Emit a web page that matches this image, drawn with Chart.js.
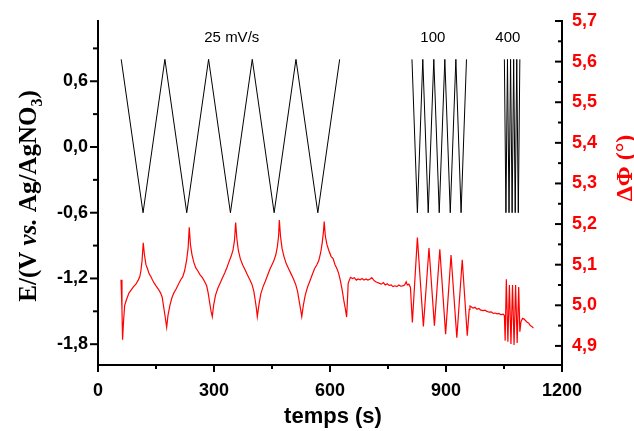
<!DOCTYPE html>
<html>
<head>
<meta charset="utf-8">
<script src="https://cdn.jsdelivr.net/npm/chart.js@4/dist/chart.umd.min.js"></script>
<style>
  html, body { margin: 0; padding: 0; background: #fff; }
  canvas { display: block; }
</style>
</head>
<body>
<canvas id="cv" width="634" height="431"></canvas>
<script>
// applied potential (black triangle wave), null = gap between scan rates
const eTime = [60, 116.5, 173, 229.5, 286, 342.5, 399, 455.5, 512, 568.5, 625, 700,
  812, 826, 840, 854, 868.5, 882.5, 897, 911, 925.5, 939, 953, 1000,
  1051, 1055, 1059, 1063, 1067, 1071, 1075, 1079, 1083, 1087, 1091];
const eVolt = [0.8, -0.6, 0.8, -0.6, 0.8, -0.6, 0.8, -0.6, 0.8, -0.6, 0.8, null,
  0.8, -0.6, 0.8, -0.6, 0.8, -0.6, 0.8, -0.6, 0.8, -0.6, 0.8, null,
  0.8, -0.6, 0.8, -0.6, 0.8, -0.6, 0.8, -0.6, 0.8, -0.6, 0.8];

// phase shift (red), right axis
const phiTime = [59.5, 62, 63.5, 66, 69, 74, 80, 86, 92, 98, 104, 108, 111, 114, 117,
  120, 124, 128, 132, 136, 140, 145, 150, 156, 162, 166, 170, 174, 177.6,
  181, 186, 191, 196, 202, 208, 214, 219, 224, 229, 233, 236,
  239, 243, 248, 253, 258, 264, 270, 276, 281, 285, 289, 292.5, 295.6,
  299, 304, 310, 316, 322, 328, 333, 338, 344, 349, 353, 356,
  359, 363, 368, 374, 380, 386, 392, 398, 403, 407, 410, 412,
  416, 421, 427, 433, 439, 445, 450, 455, 460, 464, 467, 469,
  472, 476, 481, 487, 493, 499, 505, 511, 516, 520, 524, 527,
  531, 536, 542, 548, 554, 560, 566, 571, 576, 580, 583, 585,
  588, 592, 597, 603, 608, 613, 618, 622, 627, 632, 636, 640, 643,
  645.5, 647, 650, 653, 658, 663, 668, 673, 678, 683, 688, 693, 698, 703, 708, 713,
  718, 723, 728, 733, 738, 743, 748, 753, 758, 763, 768, 773, 778, 783, 788, 793,
  797, 800, 804, 808,
  813, 826, 841.5, 856, 870, 884, 899, 913, 928, 942, 955,
  960, 962, 966, 970, 975, 980, 985, 990, 996, 1001, 1006, 1012, 1017, 1022, 1027,
  1032, 1037, 1042, 1048, 1051,
  1053, 1056, 1060, 1064, 1068, 1072, 1076, 1080, 1084, 1088, 1091,
  1094, 1098, 1102, 1106, 1110, 1114, 1118, 1122, 1126];
const phiVal = [5.063, 4.99, 4.915, 4.96, 5.0, 5.015, 5.03, 5.038, 5.046, 5.052, 5.062, 5.07, 5.085, 5.11, 5.154,
  5.125, 5.1, 5.09, 5.078, 5.072, 5.064, 5.055, 5.048, 5.04, 5.03, 5.02, 4.995, 4.97, 4.946,
  4.975, 5.0, 5.018, 5.03, 5.04, 5.052, 5.063, 5.07, 5.085, 5.11, 5.14, 5.192,
  5.15, 5.125, 5.105, 5.092, 5.085, 5.075, 5.068, 5.058, 5.048, 5.03, 5.005, 4.985, 4.972,
  5.0, 5.025, 5.042, 5.055, 5.068, 5.08, 5.092, 5.105, 5.12, 5.135, 5.16, 5.204,
  5.165, 5.135, 5.115, 5.1, 5.088, 5.076, 5.064, 5.052, 5.035, 5.01, 4.99, 4.972,
  5.0, 5.028, 5.046, 5.06, 5.075, 5.09, 5.1, 5.11, 5.125, 5.145, 5.17, 5.21,
  5.17, 5.14, 5.12, 5.102, 5.09, 5.078, 5.066, 5.052, 5.035, 5.012, 4.99, 4.972,
  5.0, 5.025, 5.045, 5.06, 5.075, 5.09, 5.1, 5.11, 5.13, 5.155, 5.18, 5.206,
  5.17, 5.15, 5.135, 5.12, 5.115, 5.1, 5.09, 5.08, 5.06, 5.035, 5.01, 4.99, 4.971,
  5.02, 5.054, 5.062, 5.069, 5.066, 5.068, 5.062, 5.065, 5.063, 5.066, 5.062, 5.065, 5.062, 5.064, 5.068, 5.062,
  5.058, 5.056, 5.054, 5.052, 5.056, 5.05, 5.053, 5.049, 5.05, 5.046, 5.048, 5.046, 5.05, 5.047, 5.048, 5.05,
  5.058, 5.05, 5.052, 5.044,
  4.958, 5.167, 4.948, 5.141, 4.95, 5.138, 4.929, 5.124, 4.92, 5.112, 4.925,
  4.99, 4.998, 4.996, 4.993, 4.995, 4.99, 4.992, 4.988, 4.987, 4.988, 4.985, 4.983, 4.984, 4.98, 4.981,
  4.979, 4.98, 4.977, 4.978, 4.975,
  4.913, 5.064, 4.91, 5.05, 4.905, 5.05, 4.902, 5.05, 4.907, 5.045, 4.935,
  4.96, 4.968, 4.966, 4.962, 4.958, 4.956, 4.95, 4.948, 4.944];

const timeTicks = [0, 300, 600, 900, 1200];
const eTicks = [-1.8, -1.2, -0.6, 0.0, 0.6];
const phiTicks = [4.9, 5.0, 5.1, 5.2, 5.3, 5.4, 5.5, 5.6, 5.7];

const noteText = ['25 mV/s', '100', '400'];
const noteTime = [346, 866, 1060];
const noteE = [1.0, 1.0, 1.0];

const comma = v => v.toFixed(1).replace('.', ',');
const tickFont = { family: 'Liberation Sans, Arial, sans-serif', size: 18, weight: 'bold' };

// tick marks (major + minor) and all the titles
const decor = {
  id: 'decor',
  afterDraw(chart) {
    const ctx = chart.ctx;
    const { x, y, y1 } = chart.scales;
    const a = chart.chartArea;
    ctx.save();
    ctx.strokeStyle = '#000';
    ctx.lineWidth = 2;
    const line = (x0, y0, x2, y2) => {
      ctx.beginPath(); ctx.moveTo(x0, y0); ctx.lineTo(x2, y2); ctx.stroke();
    };
    const withMinor = (ticks) => {
      const out = [];
      ticks.forEach((v, i) => {
        out.push([v, true]);
        if (i < ticks.length - 1) out.push([(v + ticks[i + 1]) / 2, false]);
      });
      return out;
    };
    withMinor(timeTicks).forEach(([v, major]) => {
      const px = x.getPixelForValue(v);
      line(px, a.bottom, px, a.bottom + (major ? 7 : 4));
    });
    withMinor(eTicks.concat([1.2])).forEach(([v, major]) => {
      if (v > y.max) return;
      const py = y.getPixelForValue(v);
      line(a.left, py, a.left - (major ? 8 : 5), py);
    });
    withMinor(phiTicks).forEach(([v, major]) => {
      const py = y1.getPixelForValue(v);
      line(a.right, py, a.right - (major ? 7 : 4), py);
    });

    // scan rate notes
    ctx.fillStyle = '#000';
    ctx.font = '15px "Liberation Sans", Arial, sans-serif';
    ctx.textAlign = 'center';
    ctx.textBaseline = 'middle';
    noteText.forEach((t, i) => {
      ctx.fillText(t, x.getPixelForValue(noteTime[i]), y.getPixelForValue(noteE[i]));
    });

    // x title
    ctx.font = 'bold 22px "Liberation Sans", Arial, sans-serif';
    ctx.textBaseline = 'alphabetic';
    ctx.fillText('temps (s)', (a.left + a.right) / 2 + 3, 423);

    // left title, mixed styles
    const serif = '"Liberation Serif", "Times New Roman", serif';
    const parts = [
      ['E/(V ', 'bold 25px ' + serif, 0],
      ['vs.', 'italic bold 25px ' + serif, 0],
      [' Ag/AgNO', 'bold 25px ' + serif, 0],
      ['3', 'bold 16px ' + serif, 6],
      [')', 'bold 25px ' + serif, 0]
    ];
    let total = 0;
    parts.forEach(p => { ctx.font = p[1]; total += ctx.measureText(p[0]).width; });
    ctx.save();
    ctx.translate(36, (a.top + a.bottom) / 2 + 3);
    ctx.rotate(-Math.PI / 2);
    ctx.textAlign = 'left';
    let cx = -total / 2;
    parts.forEach(p => {
      ctx.font = p[1];
      ctx.fillText(p[0], cx, p[2]);
      cx += ctx.measureText(p[0]).width;
    });
    ctx.restore();

    // right title
    ctx.save();
    ctx.translate(632, 168);
    ctx.rotate(-Math.PI / 2);
    ctx.fillStyle = '#ff0000';
    ctx.textAlign = 'center';
    ctx.font = 'bold 24px ' + serif;
    ctx.fillText('\u0394\u03A6 (\u00B0)', 0, 0);
    ctx.restore();

    ctx.restore();
  }
};

const eData = eTime.map((t, i) => ({ x: t, y: eVolt[i] }));
const phiData = phiTime.map((t, i) => ({ x: t, y: phiVal[i] }));

new Chart(document.getElementById('cv'), {
  type: 'line',
  data: {
    datasets: [
      {
        data: eData, yAxisID: 'y', borderColor: '#000', borderWidth: 1,
        pointRadius: 0, tension: 0, spanGaps: false
      },
      {
        data: phiData, yAxisID: 'y1', borderColor: '#ff0000', borderWidth: 1.2,
        pointRadius: 0, tension: 0
      }
    ]
  },
  options: {
    responsive: false,
    animation: false,
    layout: { padding: { top: 21, left: 0, right: 0, bottom: 0 } },
    plugins: { legend: { display: false }, tooltip: { enabled: false } },
    scales: {
      x: {
        type: 'linear', min: 0, max: 1200,
        afterBuildTicks: s => { s.ticks = timeTicks.map(v => ({ value: v })); },
        afterFit: s => { s.height = 66; },
        grid: { display: false, drawTicks: false },
        border: { display: true, color: '#000', width: 2 },
        ticks: { font: tickFont, color: '#000', padding: 15, maxRotation: 0, callback: v => String(v) }
      },
      y: {
        type: 'linear', position: 'left', min: -1.99, max: 1.15,
        afterBuildTicks: s => { s.ticks = eTicks.map(v => ({ value: v })); },
        afterFit: s => { s.width = 98; },
        grid: { display: false, drawTicks: false },
        border: { display: true, color: '#000', width: 2 },
        ticks: { font: tickFont, color: '#000', padding: 10, callback: v => comma(v) }
      },
      y1: {
        type: 'linear', position: 'right', min: 4.853, max: 5.7,
        afterBuildTicks: s => { s.ticks = phiTicks.map(v => ({ value: v })); },
        afterFit: s => { s.width = 72; },
        grid: { display: false, drawTicks: false },
        border: { display: true, color: '#000', width: 2 },
        ticks: { font: tickFont, color: '#ff0000', padding: 10, callback: v => comma(v) }
      }
    }
  },
  plugins: [decor]
});
</script>
</body>
</html>
